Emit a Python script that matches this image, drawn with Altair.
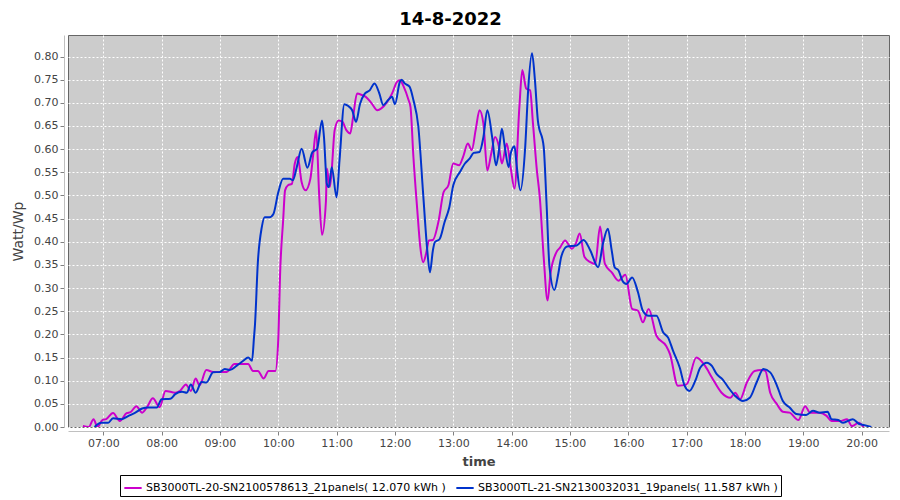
import altair as alt
import pandas as pd

NAME_A = "SB3000TL-20-SN2100578613_21panels( 12.070 kWh )"
NAME_B = "SB3000TL-21-SN2130032031_19panels( 11.587 kWh )"

A_TIMES = ["06:39","06:45","06:50","06:54","06:59","07:03","07:10","07:17","07:24","07:28",
           "07:34","07:40","07:45","07:51","07:58","08:04","08:14","08:19","08:25","08:30",
           "08:35","08:39","08:46","08:53","09:00","09:07","09:15","09:22","09:29","09:34",
           "09:39","09:45","09:50","09:57","10:00","10:02","10:05","10:07","10:10","10:14",
           "10:17","10:20","10:24","10:28","10:33","10:36","10:39","10:42","10:45","10:49",
           "10:50","10:53","10:55","10:58","11:02","11:06","11:10","11:14","11:17","11:21",
           "11:26","11:30","11:36","11:42","11:46","11:52","11:57","12:02","12:05","12:09",
           "12:14","12:16","12:19","12:23","12:26","12:29","12:32","12:35","12:39","12:45",
           "12:50","12:55","13:00","13:06","13:10","13:15","13:19","13:23","13:27","13:31",
           "13:35","13:39","13:43","13:47","13:50","13:55","13:59","14:03","14:08","14:11",
           "14:15","14:19","14:22","14:26","14:29","14:33","14:37","14:40","14:46","14:50",
           "14:55","15:02","15:06","15:10","15:15","15:21","15:26","15:31","15:36","15:43",
           "15:50","15:57","16:04","16:10","16:15","16:21","16:29","16:39","16:43","16:51",
           "17:00","17:10","17:19","17:26","17:36","17:45","17:50","17:55","18:02","18:10",
           "18:17","18:21","18:26","18:33","18:39","18:46","18:55","19:02","19:07","19:17",
           "19:24","19:29","19:38","19:45","19:50","19:57","20:02"]
A_VALUES = [0.002,0.000,0.017,0.000,0.015,0.017,0.030,0.013,0.030,0.032,
            0.045,0.031,0.043,0.062,0.043,0.078,0.074,0.078,0.092,0.078,
            0.105,0.090,0.123,0.119,0.119,0.119,0.136,0.136,0.136,0.121,
            0.121,0.105,0.121,0.121,0.190,0.338,0.446,0.511,0.522,0.525,
            0.569,0.583,0.529,0.511,0.536,0.590,0.641,0.504,0.415,0.487,
            0.558,0.518,0.556,0.641,0.662,0.659,0.641,0.634,0.670,0.720,
            0.717,0.713,0.699,0.684,0.688,0.702,0.720,0.745,0.749,0.735,
            0.706,0.691,0.583,0.468,0.390,0.356,0.374,0.403,0.404,0.446,
            0.507,0.522,0.569,0.565,0.583,0.612,0.598,0.641,0.684,0.655,
            0.554,0.590,0.626,0.605,0.569,0.612,0.561,0.515,0.691,0.771,
            0.731,0.727,0.655,0.554,0.496,0.367,0.273,0.331,0.377,0.388,
            0.403,0.385,0.396,0.418,0.367,0.356,0.352,0.433,0.352,0.334,
            0.316,0.329,0.255,0.251,0.226,0.255,0.197,0.175,0.157,0.089,
            0.092,0.150,0.132,0.107,0.074,0.063,0.074,0.060,0.096,0.121,
            0.123,0.121,0.074,0.049,0.033,0.031,0.015,0.045,0.031,0.031,
            0.024,0.013,0.013,0.017,0.002,0.009,0.000]

B_TIMES = ["06:51","06:58","07:05","07:10","07:19","07:26","07:33","07:40","07:46","07:55",
           "08:00","08:09","08:14","08:21","08:26","08:30","08:35","08:41","08:46","08:53",
           "09:00","09:05","09:10","09:17","09:24","09:29","09:33","09:35","09:36","09:39",
           "09:43","09:46","09:51","09:55","10:00","10:05","10:12","10:15","10:19","10:24",
           "10:30","10:35","10:40","10:45","10:47","10:50","10:52","10:55","11:00","11:03",
           "11:08","11:12","11:16","11:20","11:24","11:29","11:34","11:39","11:44","11:48",
           "11:53","11:57","12:00","12:05","12:07","12:10","12:15","12:19","12:24","12:29",
           "12:33","12:36","12:39","12:41","12:46","12:51","12:56","13:00","13:07","13:12",
           "13:17","13:21","13:27","13:31","13:35","13:40","13:44","13:47","13:50","13:53",
           "13:57","13:59","14:03","14:05","14:09","14:14","14:17","14:21","14:24","14:27",
           "14:33","14:36","14:39","14:44","14:48","14:51","14:57","15:07","15:14","15:21",
           "15:29","15:34","15:39","15:43","15:46","15:50","15:54","15:58","16:04","16:10",
           "16:15","16:21","16:29","16:36","16:41","16:46","16:53","16:58","17:03","17:09",
           "17:14","17:21","17:26","17:31","17:37","17:43","17:50","17:58","18:05","18:12",
           "18:19","18:26","18:33","18:39","18:46","18:53","19:03","19:10","19:17","19:25",
           "19:29","19:36","19:41","19:51","19:57","20:03","20:10"]
B_VALUES = [0.000,0.009,0.009,0.019,0.017,0.024,0.031,0.040,0.042,0.042,
            0.060,0.061,0.071,0.076,0.074,0.092,0.074,0.097,0.096,0.118,
            0.119,0.125,0.123,0.132,0.143,0.150,0.143,0.193,0.220,0.356,
            0.431,0.453,0.453,0.460,0.507,0.536,0.536,0.533,0.561,0.601,
            0.560,0.593,0.601,0.662,0.626,0.525,0.518,0.561,0.496,0.576,
            0.697,0.693,0.684,0.659,0.697,0.720,0.727,0.742,0.720,0.695,
            0.706,0.713,0.697,0.745,0.750,0.742,0.735,0.706,0.650,0.504,
            0.388,0.334,0.381,0.399,0.406,0.442,0.475,0.522,0.551,0.569,
            0.580,0.592,0.594,0.626,0.684,0.626,0.565,0.598,0.644,0.605,
            0.561,0.590,0.606,0.569,0.511,0.605,0.727,0.807,0.749,0.662,
            0.605,0.480,0.345,0.296,0.331,0.367,0.390,0.392,0.404,0.381,
            0.345,0.396,0.428,0.381,0.345,0.338,0.316,0.309,0.323,0.291,
            0.251,0.240,0.240,0.204,0.193,0.165,0.128,0.089,0.078,0.100,
            0.128,0.139,0.132,0.114,0.103,0.085,0.067,0.056,0.063,0.096,
            0.125,0.118,0.089,0.056,0.042,0.028,0.026,0.035,0.031,0.033,
            0.017,0.015,0.009,0.017,0.007,0.004,0.000]

Y_TICKS = [0.00,0.05,0.10,0.15,0.20,0.25,0.30,0.35,0.40,0.45,0.50,0.55,0.60,0.65,0.70,0.75,0.80]
X_TICKS = list(range(7, 21))


def to_hours(s):
    h, m = s.split(":")
    return int(h) + int(m) / 60.0


rows = []
for t, v in zip(A_TIMES, A_VALUES):
    rows.append({"h": to_hours(t), "v": v, "series": NAME_A})
for t, v in zip(B_TIMES, B_VALUES):
    rows.append({"h": to_hours(t), "v": v, "series": NAME_B})
df = pd.DataFrame(rows)

FONT = "DejaVu Sans"

chart = alt.Chart(df).mark_line(strokeWidth=2, interpolate="monotone", clip=True).encode(
    x=alt.X("h:Q",
            scale=alt.Scale(domain=[6.395, 20.47], nice=False, zero=False),
            axis=alt.Axis(values=X_TICKS,
                          labelExpr="(datum.value < 10 ? '0' : '') + datum.value + ':00'",
                          title="time", offset=4, titleFontWeight="bold",
                          titleFontSize=13, titlePadding=7)),
    y=alt.Y("v:Q",
            scale=alt.Scale(domain=[0, 0.8465], nice=False),
            axis=alt.Axis(values=Y_TICKS, format=".2f", title="Watt/Wp", offset=4,
                          titleFontWeight="normal", titleFontSize=14, titlePadding=8)),
    color=alt.Color("series:N",
                    scale=alt.Scale(domain=[NAME_A, NAME_B], range=["#cc00cc", "#0033cc"]),
                    legend=alt.Legend(orient="none", legendX=52, legendY=440,
                                      direction="horizontal", title=None,
                                      strokeColor="black", fillColor="white",
                                      padding=3, symbolType="stroke",
                                      symbolStrokeWidth=2, symbolSize=300,
                                      labelFont=FONT, labelFontSize=11,
                                      labelColor="black", labelLimit=500,
                                      columnPadding=6, labelOffset=3)),
).properties(
    width=821,
    height=392,
    title=alt.TitleParams("14-8-2022", font=FONT, fontSize=18, fontWeight="bold",
                          anchor="middle", dx=-28, offset=6, color="black"),
    autosize=alt.AutoSizeParams(type="none"),
    padding={"left": 60, "top": 27, "right": 3, "bottom": 73},
    background="white",
).configure_view(
    fill="#cccccc", stroke="#666666", strokeWidth=1
).configure_axis(
    grid=True, gridColor="white", gridDash=[2, 2], gridWidth=1, gridOpacity=1,
    domainColor="#c0c0c0", tickColor="#808080", tickSize=4,
    labelColor="#444444", labelFont=FONT, labelFontSize=11, labelPadding=2,
    titleColor="#444444", titleFont=FONT
)

chart.save("out.html", embed_options={"renderer": "svg", "actions": False})
